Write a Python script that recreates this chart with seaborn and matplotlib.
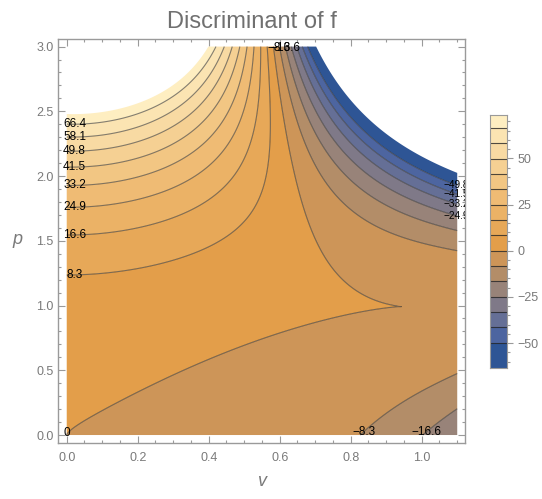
import numpy as np
import matplotlib
matplotlib.use("Agg")
import matplotlib.pyplot as plt
from matplotlib.colors import LinearSegmentedColormap, Normalize
from matplotlib.ticker import MultipleLocator
import seaborn as sns

# ---- data: f is a cubic whose depressed form is y^3 + P y + Q; Discriminant = -4P^3 - 27Q^2
# P = -p + e*p^2 + v*(a0 + a1*v + a2*p)
P_coef = [-0.0260, 0.1089, 1.1008, -0.0823]            # e, a0, a1, a2
# Q = v*(b0 + b1*v + b2*p + b3*v^2 + b4*v*p + b5*p^2)
Q_coef = [-0.2403, -0.6144, 0.0737, 0.2662, 0.1522, 0.3728]
v_range = [0.0, 1.1]
p_range = [0.0, 3.0]
contour_levels = [-49.8, -41.5, -33.2, -24.9, -16.6, -8.3, 0.0, 8.3, 16.6, 24.9, 33.2, 41.5, 49.8, 58.1, 66.4]
plot_min, plot_max = -63.5, 73.5
left_labels = [8.3, 16.6, 24.9, 33.2, 41.5, 49.8, 58.1, 66.4]
right_labels = [-24.9, -33.2, -41.5, -49.8]
bottom_labels = [-8.3, -16.6]
top_labels = [-8.3, -16.6]
x_ticks = [0.0, 0.2, 0.4, 0.6, 0.8, 1.0]
y_ticks = [0.0, 0.5, 1.0, 1.5, 2.0, 2.5, 3.0]
cbar_ticks = [-50, -25, 0, 25, 50]
title = "Discriminant of f"


def discriminant(v, p):
    e, a0, a1, a2 = P_coef
    b0, b1, b2, b3, b4, b5 = Q_coef
    P = -p + e * p**2 + v * (a0 + a1 * v + a2 * p)
    Q = v * (b0 + b1 * v + b2 * p + b3 * v**2 + b4 * v * p + b5 * p**2)
    return -4 * P**3 - 27 * Q**2


sns.set_theme(style="white")
plt.rcParams["font.family"] = ["Liberation Sans", "DejaVu Sans"]
GRAY = "#7a7a7a"
FRAME = "#9a9a9a"

cmap = LinearSegmentedColormap.from_list("mma", [
    (0.00, (0.11, 0.30, 0.56)),
    (0.135, (0.31, 0.40, 0.63)),
    (0.245, (0.49, 0.47, 0.54)),
    (0.354, (0.67, 0.545, 0.43)),
    (0.463, (0.86, 0.60, 0.31)),
    (0.493, (0.89, 0.62, 0.29)),
    (0.682, (0.94, 0.74, 0.46)),
    (1.00, (1.00, 0.95, 0.78)),
])
norm = Normalize(plot_min, plot_max)

v = np.linspace(v_range[0], v_range[1], 500)
p = np.linspace(p_range[0], p_range[1], 500)
VV, PG = np.meshgrid(v, p)
Z = discriminant(VV, PG)

fill_levels = [plot_min] + contour_levels + [plot_max]
band_colors = [cmap(norm(0.5 * (a + b))) for a, b in zip(fill_levels[:-1], fill_levels[1:])]

fig = plt.figure(figsize=(5.42, 4.99), dpi=100)
ax = fig.add_axes([0.1076, 0.1116, 0.7504, 0.8096])
ax.contourf(VV, PG, Z, levels=fill_levels, colors=band_colors, antialiased=True)
ax.contour(VV, PG, Z, levels=contour_levels, colors=[(0.2, 0.2, 0.2)], linewidths=0.8,
           alpha=0.6, linestyles="solid")

ax.set_xlim(-0.0237, 1.122)
ax.set_ylim(-0.064, 3.056)
ax.set_xticks(x_ticks)
ax.set_xticklabels(["%.1f" % t for t in x_ticks])
ax.set_yticks(y_ticks)
ax.set_yticklabels(["%.1f" % t for t in y_ticks])
ax.xaxis.set_minor_locator(MultipleLocator(0.05))
ax.yaxis.set_minor_locator(MultipleLocator(0.1))
ax.tick_params(which="both", direction="in", top=True, right=True, bottom=True, left=True,
               color=FRAME, labelcolor=GRAY, labelsize=9, width=0.8)
ax.tick_params(which="major", length=5)
ax.tick_params(which="minor", length=2.5)
ax.tick_params(axis="x", pad=6)
for s in ax.spines.values():
    s.set_color(FRAME)
    s.set_linewidth(1.0)
ax.grid(False)


def fmt(l):
    return ("%g" % l).replace("-", "\u2212")


def crossing(xs, zs, level):
    idx = np.where(np.diff(np.sign(zs - level)) != 0)[0]
    if len(idx) == 0:
        return None
    i = idx[0]
    return xs[i] + (level - zs[i]) * (xs[i + 1] - xs[i]) / (zs[i + 1] - zs[i])


lab_kw = dict(fontsize=8.5, color="black", ha="center", va="center", clip_on=True, zorder=6)
for l in left_labels:
    pc = crossing(p, Z[:, 0], l)
    if pc is not None:
        ax.text(0.022, pc, fmt(l), **lab_kw)
for l in right_labels:
    pc = crossing(p, Z[:, -1], l)
    if pc is not None:
        ax.text(1.097, pc, fmt(l), **{**lab_kw, "fontsize": 7.2})
for l in bottom_labels:
    vc = crossing(v, Z[0, :], l)
    if vc is not None:
        ax.text(vc + 0.01, 0.02, fmt(l), **lab_kw)
for l in top_labels:
    vc = crossing(v, Z[-1, :], l)
    if vc is not None:
        ax.text(vc, 2.99, fmt(l), **lab_kw)
ax.text(0.0, 0.015, "0", **lab_kw)

fig.text(251.7 / 542, 1 - 21.7 / 499, title, ha="center", va="center", fontsize=17, color="#707070")
fig.text(262 / 542, 1 - 481 / 499, "v", ha="center", va="center", fontsize=13, color=GRAY, style="italic")
fig.text(17 / 542, 1 - 240 / 499, "p", ha="center", va="center", fontsize=13, color=GRAY,
         style="italic")

# colour bar
cax = fig.add_axes([490 / 542, 1 - 368 / 499, 17 / 542, 253 / 499])
for (a, b), c in zip(zip(fill_levels[:-1], fill_levels[1:]), band_colors):
    cax.axhspan(a, b, color=c, lw=0)
for l in contour_levels:
    cax.axhline(l, color=(0.15, 0.15, 0.15), lw=0.8, alpha=0.8)
cax.set_ylim(plot_min, plot_max)
cax.set_xlim(0, 1)
cax.set_xticks([])
cax.yaxis.tick_right()
cax.set_yticks(cbar_ticks)
cax.set_yticklabels([fmt(t) for t in cbar_ticks])
cax.yaxis.set_minor_locator(MultipleLocator(5))
cax.tick_params(which="both", direction="out", right=True, left=False, color=FRAME,
                labelcolor=GRAY, labelsize=9, width=0.8)
cax.tick_params(which="major", length=4)
cax.tick_params(which="minor", length=2)
for s in cax.spines.values():
    s.set_color(FRAME)
    s.set_linewidth(0.8)

fig.savefig("out.png", dpi=100)
